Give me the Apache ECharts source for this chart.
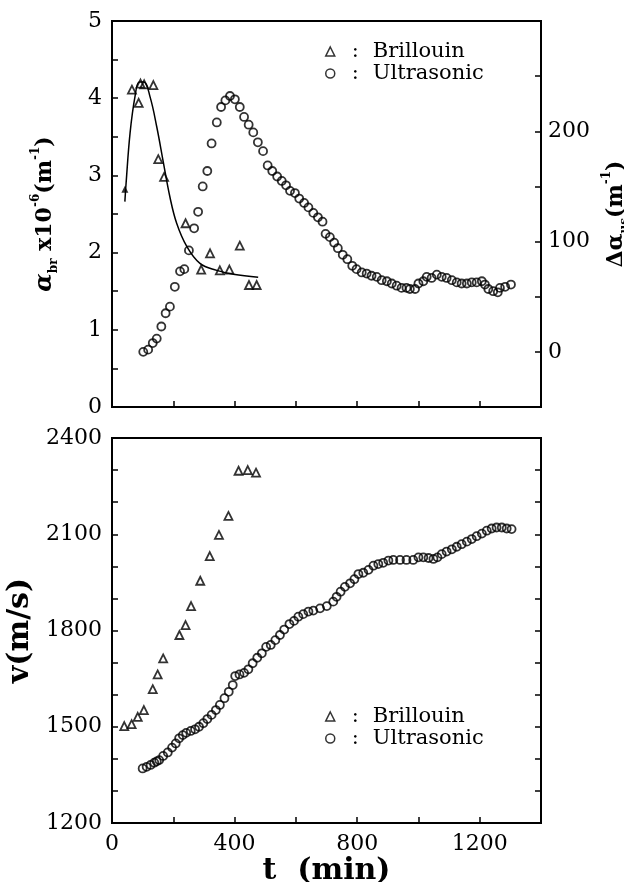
<!DOCTYPE html>
<html>
<head>
<meta charset="utf-8">
<script src="https://cdn.jsdelivr.net/npm/echarts@6/dist/echarts.min.js"></script>
<style>
  html, body { margin: 0; padding: 0; background: #fff; }
  #chart { width: 624px; height: 882px; }
</style>
</head>
<body>
<div id="chart"></div>
<script>
// top panel: Brillouin attenuation (left axis)
const brTopT = [65, 87, 93, 105, 135, 151, 170, 240, 291, 320, 352, 383, 417, 447, 472];
const brTopAlpha = [4.11, 3.94, 4.19, 4.18, 4.17, 3.21, 2.98, 2.38, 1.78, 1.99, 1.77, 1.78, 2.09, 1.58, 1.58];

// fitted curve through the Brillouin points
const fitT = [42, 46, 59, 75, 89, 104, 124, 146, 168, 189, 211, 244, 287, 342, 396, 477];
const fitAlpha = [2.66, 2.9, 3.55, 4.02, 4.21, 4.21, 4.02, 3.63, 3.16, 2.72, 2.38, 2.08, 1.86, 1.77, 1.72, 1.68];
const arrowT = [42];
const arrowAlpha = [2.82];

// top panel: ultrasonic excess attenuation (right axis)
const usTopT = [102, 118, 133, 146, 161, 175, 189, 205, 222, 236, 251, 268, 281, 296, 311, 325, 342, 356, 370, 385,
  401, 417, 431, 446, 461, 476, 493, 508, 523, 539, 554, 568, 581, 597, 611, 627, 641, 657, 672, 687,
  697, 711, 725, 737, 753, 768, 784, 798, 815, 831, 847, 864, 880, 897, 913, 929, 945, 961, 972, 989,
  1000, 1016, 1027, 1043, 1060, 1076, 1092, 1109, 1125, 1141, 1158, 1174, 1190, 1207, 1217, 1228, 1244, 1259, 1266, 1283, 1302];
const usTopDalpha = [0, 2, 8, 12, 23, 35, 41, 59, 73, 75, 92, 112, 127, 150, 164, 189, 208, 222, 228, 232,
  229, 222, 213, 206, 199, 190, 182, 169, 164, 159, 155, 151, 146, 144, 139, 135, 131, 126, 122, 118,
  107, 104, 99, 94, 88, 84, 78, 75, 72, 71, 69, 68, 65, 64, 62, 60, 58, 58, 57, 57,
  62, 64, 68, 67, 70, 68, 67, 65, 63, 62, 62, 63, 63, 64, 61, 57, 55, 54, 58, 59, 61];

// bottom panel: sound velocity
const brBotT = [40, 64, 84, 104, 133, 149, 167, 220, 240, 258, 288, 319, 349, 380, 413, 443, 470];
const brBotV = [1502, 1508, 1531, 1552, 1617, 1663, 1713, 1786, 1817, 1876, 1955, 2032, 2098, 2157, 2298, 2300, 2292];

const usBotT = [100, 113, 126, 138, 146, 154, 167, 182, 196, 208, 219, 231, 242, 257, 271, 284, 298, 311, 325, 339,
  352, 367, 381, 394, 402, 416, 431, 445, 459, 474, 489, 503, 518, 533, 548, 562, 579, 594, 608, 624,
  641, 657, 679, 701, 722, 733, 746, 760, 777, 791, 804, 820, 837, 853, 869, 885, 902, 918, 940, 961,
  983, 1000, 1016, 1033, 1049, 1062, 1076, 1092, 1109, 1125, 1141, 1158, 1174, 1190, 1207, 1223, 1239, 1255, 1272, 1288, 1304];
const usBotV = [1370, 1375, 1381, 1388, 1392, 1396, 1409, 1420, 1435, 1448, 1464, 1474, 1481, 1487, 1492, 1500, 1511, 1524, 1537, 1552,
  1568, 1589, 1609, 1630, 1658, 1663, 1668, 1679, 1698, 1715, 1729, 1749, 1755, 1770, 1786, 1803, 1820, 1830, 1843, 1851,
  1859, 1862, 1869, 1876, 1890, 1905, 1921, 1936, 1947, 1960, 1976, 1980, 1989, 2002, 2007, 2011, 2018, 2020, 2020, 2020,
  2020, 2028, 2028, 2026, 2023, 2028, 2038, 2046, 2053, 2061, 2069, 2077, 2085, 2094, 2102, 2111, 2118, 2121, 2121, 2118, 2116];

const FONT = 'DejaVu Serif';
const zip = (a, b) => a.map((v, i) => [v, b[i]]);

const tickStyle = {inside: true, length: 6, lineStyle: {color: '#000', width: 1.5}};
const lineStyle = {lineStyle: {color: '#000', width: 2}};
const labelStyle = {color: '#000', fontFamily: FONT, fontSize: 22, margin: 10};
const hollow = {color: 'rgba(0,0,0,0)', borderColor: '#000', borderWidth: 1.8};

function onlyAt(list) {
  return v => list.some(x => Math.abs(x - v) < 1e-6) ? String(v) : '';
}

const chart = echarts.init(document.getElementById('chart'));

const legendText = {
  color: '#000', fontFamily: FONT, fontSize: 21,
  rich: {
    c: {fontFamily: FONT, fontSize: 21, color: '#000', padding: [0, 14, 0, 12]},
    n: {fontFamily: FONT, fontSize: 21, color: '#000'}
  }
};

function makeLegend(top) {
  return {
    data: ['Brillouin', 'Ultrasonic'],
    orient: 'vertical', left: 320, top: top,
    itemWidth: 9, itemHeight: 9, itemGap: 1,
    selectedMode: false,
    itemStyle: {color: 'rgba(0,0,0,0)', borderColor: '#000', borderWidth: 1.5},
    textStyle: legendText,
    formatter: name => '{c|:}{n|' + name + '}'
  };
}

chart.setOption({
  animation: false,
  backgroundColor: '#fff',
  grid: [
    {left: 112, top: 21, width: 429, height: 386, show: true, borderColor: '#000', borderWidth: 2,
      outerBoundsMode: 'none', containLabel: false},
    {left: 112, top: 438, width: 429, height: 385, show: true, borderColor: '#000', borderWidth: 2,
      outerBoundsMode: 'none', containLabel: false}
  ],
  legend: [makeLegend(36), makeLegend(701)],
  xAxis: [
    {gridIndex: 0, type: 'value', min: 0, max: 1400, interval: 200,
      axisLine: lineStyle, axisTick: tickStyle, axisLabel: {show: false}, splitLine: {show: false}},
    {gridIndex: 1, type: 'value', min: 0, max: 1400, interval: 200,
      axisLine: lineStyle, axisTick: tickStyle, splitLine: {show: false},
      axisLabel: Object.assign({}, labelStyle, {formatter: onlyAt([0, 400, 800, 1200])}),
      name: 't  (min)', nameLocation: 'middle', nameGap: 22,
      nameTextStyle: {color: '#000', fontFamily: FONT, fontSize: 30, fontWeight: 'bold'}}
  ],
  yAxis: [
    {gridIndex: 0, type: 'value', min: 0, max: 5, interval: 0.5,
      axisLine: lineStyle, axisTick: tickStyle, splitLine: {show: false},
      axisLabel: Object.assign({}, labelStyle, {formatter: onlyAt([0, 1, 2, 3, 4, 5])}),
      name: '{a|α}{s|br}{t| x10}{p|-6}{t|(m}{p|-1}{t|)}', nameLocation: 'middle', nameGap: 52, nameRotate: 90,
      nameTextStyle: {
        color: '#000', fontFamily: FONT, fontSize: 22, fontWeight: 'bold',
        rich: {
          a: {fontFamily: FONT, fontSize: 24, fontWeight: 'bold', fontStyle: 'italic', lineHeight: 30, color: '#000'},
          s: {fontFamily: FONT, fontSize: 12, fontWeight: 'bold', verticalAlign: 'bottom', lineHeight: 16, color: '#000'},
          t: {fontFamily: FONT, fontSize: 22, fontWeight: 'bold', lineHeight: 30, color: '#000'},
          p: {fontFamily: FONT, fontSize: 12, fontWeight: 'bold', verticalAlign: 'top', lineHeight: 16, color: '#000'}
        }
      }},
    {gridIndex: 0, type: 'value', position: 'right', min: -50, max: 300, interval: 50,
      axisLine: lineStyle, axisTick: tickStyle, splitLine: {show: false},
      axisLabel: Object.assign({}, labelStyle, {margin: 7, formatter: onlyAt([0, 100, 200])}),
      name: '{a|Δα}{s|us}{t|(m}{p|-1}{t|)}', nameLocation: 'middle', nameGap: 58, nameRotate: 90,
      nameTextStyle: {
        color: '#000', fontFamily: FONT, fontSize: 22, fontWeight: 'bold',
        rich: {
          a: {fontFamily: FONT, fontSize: 22, fontWeight: 'bold', lineHeight: 30, color: '#000'},
          s: {fontFamily: FONT, fontSize: 12, fontWeight: 'bold', verticalAlign: 'bottom', lineHeight: 16, color: '#000'},
          t: {fontFamily: FONT, fontSize: 22, fontWeight: 'bold', lineHeight: 30, color: '#000'},
          p: {fontFamily: FONT, fontSize: 12, fontWeight: 'bold', verticalAlign: 'top', lineHeight: 16, color: '#000'}
        }
      }},
    {gridIndex: 1, type: 'value', min: 1200, max: 2400, interval: 100,
      axisLine: lineStyle, axisTick: tickStyle, splitLine: {show: false},
      axisLabel: Object.assign({}, labelStyle, {formatter: onlyAt([1200, 1500, 1800, 2100, 2400])}),
      name: 'v(m/s)', nameLocation: 'middle', nameGap: 72, nameRotate: 90,
      nameTextStyle: {color: '#000', fontFamily: FONT, fontSize: 30, fontWeight: 'bold'}},
    {gridIndex: 1, type: 'value', position: 'right', min: 1200, max: 2400, interval: 100,
      axisLine: lineStyle, axisTick: tickStyle, splitLine: {show: false}, axisLabel: {show: false}}
  ],
  series: [
    {name: 'Brillouin', type: 'scatter', xAxisIndex: 0, yAxisIndex: 0, symbol: 'triangle', symbolSize: 8,
      itemStyle: hollow, data: zip(brTopT, brTopAlpha)},
    {name: 'fit', type: 'line', xAxisIndex: 0, yAxisIndex: 0, smooth: 0.4, showSymbol: false,
      lineStyle: {color: '#000', width: 1.5}, data: zip(fitT, fitAlpha)},
    {name: 'start', type: 'scatter', xAxisIndex: 0, yAxisIndex: 0, symbol: 'triangle', symbolSize: 7,
      itemStyle: {color: '#000'}, data: zip(arrowT, arrowAlpha)},
    {name: 'Ultrasonic', type: 'scatter', xAxisIndex: 0, yAxisIndex: 1, symbol: 'circle', symbolSize: 8,
      itemStyle: hollow, data: zip(usTopT, usTopDalpha)},
    {name: 'Brillouin', type: 'scatter', xAxisIndex: 1, yAxisIndex: 2, symbol: 'triangle', symbolSize: 8,
      itemStyle: hollow, data: zip(brBotT, brBotV)},
    {name: 'Ultrasonic', type: 'scatter', xAxisIndex: 1, yAxisIndex: 2, symbol: 'circle', symbolSize: 8,
      itemStyle: hollow, data: zip(usBotT, usBotV)}
  ]
});
</script>
</body>
</html>
